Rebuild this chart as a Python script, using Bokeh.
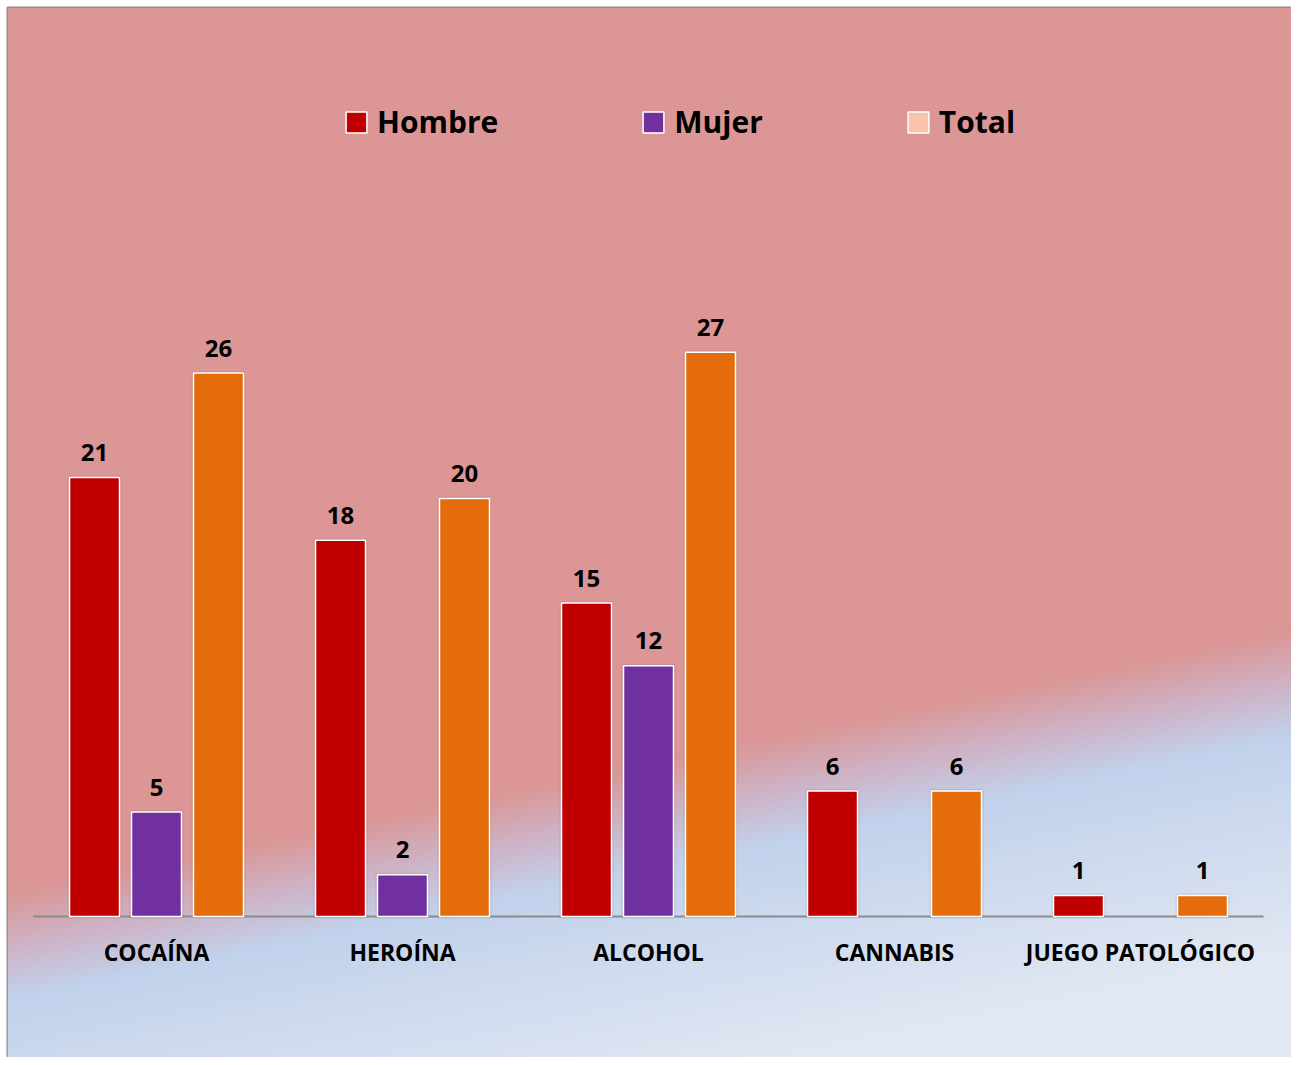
import numpy as np
from bokeh.plotting import figure
from bokeh.models import ColumnDataSource, Range1d, Legend, LegendItem
from bokeh.embed import file_html
from bokeh.resources import INLINE
from bokeh.core.properties import value

# ---------------- data ----------------
categories = ["COCAÍNA", "HEROÍNA", "ALCOHOL", "CANNABIS", "JUEGO PATOLÓGICO"]
hombre = [21, 18, 15, 6, 1]
mujer = [5, 2, 12, None, None]
total = [26, 20, 27, 6, 1]
series_names = ["Hombre", "Mujer", "Total"]

# ---------------- styles ----------------
COLORS = {"Hombre": "#C00000", "Mujer": "#7030A0", "Total": "#E46C0A"}
LEGEND_COLORS = {"Hombre": "#C00000", "Mujer": "#7030A0", "Total": "#F8C3A8"}
FONT = "Open Sans"

W, H = 1291, 1057
L0, T0 = 7, 7                     # white margin left / top
FW, FH = W - L0, H - T0           # frame size
PX_PER_CAT = 246.0
PX_PER_UNIT = 20.9
BASE_Y = 916
x_start = -(156 - L0) / PX_PER_CAT
x_end = x_start + FW / PX_PER_CAT
y_end = (BASE_Y - T0) / PX_PER_UNIT
y_start = -(H - BASE_Y) / PX_PER_UNIT

p = figure(width=W, height=H, output_backend="svg", toolbar_location=None,
           x_range=Range1d(x_start, x_end), y_range=Range1d(y_start, y_end),
           x_axis_location=None, y_axis_location=None,
           min_border_left=L0, min_border_top=T0, min_border_right=0, min_border_bottom=0)
p.grid.visible = False
p.background_fill_color = "#DB9695"
p.border_fill_color = "white"
p.outline_line_color = "#8C8C8C"
p.outline_line_width = 2

# ---------------- gradient background ----------------
nx, ny = FW // 2, FH // 2
px = L0 + (np.arange(nx) + 0.5) * FW / nx
py = H - (np.arange(ny) + 0.5) * FH / ny  # row 0 = bottom
PX, PY = np.meshgrid(px, py)
d = 0.2008 * PX + 0.9796 * PY - 930.6
stops_d = [-55, 0, 50, 260]
stops_c = np.array([[219, 150, 149], [206, 180, 200], [194, 210, 236], [225, 231, 243]], dtype=float)
img = np.empty((ny, nx), dtype=np.uint32)
view = img.view(dtype=np.uint8).reshape((ny, nx, 4))
for k in range(3):
    view[:, :, k] = np.interp(d, stops_d, stops_c[:, k]).astype(np.uint8)
view[:, :, 3] = 255
p.image_rgba(image=[img], x=x_start, y=y_start, dw=x_end - x_start, dh=y_end - y_start)

# ---------------- baseline ----------------
p.line(x=[-0.5, len(categories) - 0.5], y=[0, 0], line_color="#8C8C8C", line_width=2)

# ---------------- legend proxies (hidden beneath the first bar) ----------------
offsets = {"Hombre": -0.252, "Mujer": 0.0, "Total": 0.252}
items = []
for name in series_names:
    dummy = p.vbar(x=[offsets["Hombre"]], top=[0.5], bottom=[0.2], width=0.02,
                   fill_color=LEGEND_COLORS[name], line_color="white", line_width=1.5)
    items.append(LegendItem(label=name, renderers=[dummy]))

# ---------------- bars ----------------
series_vals = {"Hombre": hombre, "Mujer": mujer, "Total": total}
bar_w = 50 / PX_PER_CAT
for name in series_names:
    vals = series_vals[name]
    xs = [i + offsets[name] for i, v in enumerate(vals) if v is not None]
    ys = [v for v in vals if v is not None]
    src = ColumnDataSource(dict(x=xs, top=ys, label=[str(v) for v in ys]))
    # soft shadow
    p.vbar(x="x", top="top", bottom=0, width=bar_w, source=src,
           fill_alpha=0.0, line_color="#707070", line_alpha=0.18, line_width=4)
    p.vbar(x="x", top="top", bottom=0, width=bar_w, source=src,
           fill_color=COLORS[name], line_color="white", line_width=1.5)
    p.text(x="x", y="top", text="label", source=src, text_align="center",
           text_baseline="alphabetic", y_offset=-25, text_font=value(FONT),
           text_font_style="bold", text_font_size="24px", text_color="black")

# ---------------- category labels ----------------
cat_src = ColumnDataSource(dict(x=list(range(len(categories))), y=[0] * len(categories), text=categories))
p.text(x="x", y="y", text="text", source=cat_src, text_align="center",
       text_baseline="alphabetic", y_offset=35, text_font=value(FONT),
       text_font_style="bold", text_font_size="23px", text_color="black")

# ---------------- legend ----------------
legend = Legend(items=items, orientation="horizontal", location=(336, 915),
                glyph_width=26, glyph_height=26, label_standoff=8, spacing=142,
                label_text_font=FONT, label_text_font_style="bold",
                label_text_font_size="30px", label_text_color="black",
                background_fill_alpha=0, border_line_alpha=0, padding=0, margin=0)
p.add_layout(legend)

open("out.html", "w").write(file_html(p, INLINE))
